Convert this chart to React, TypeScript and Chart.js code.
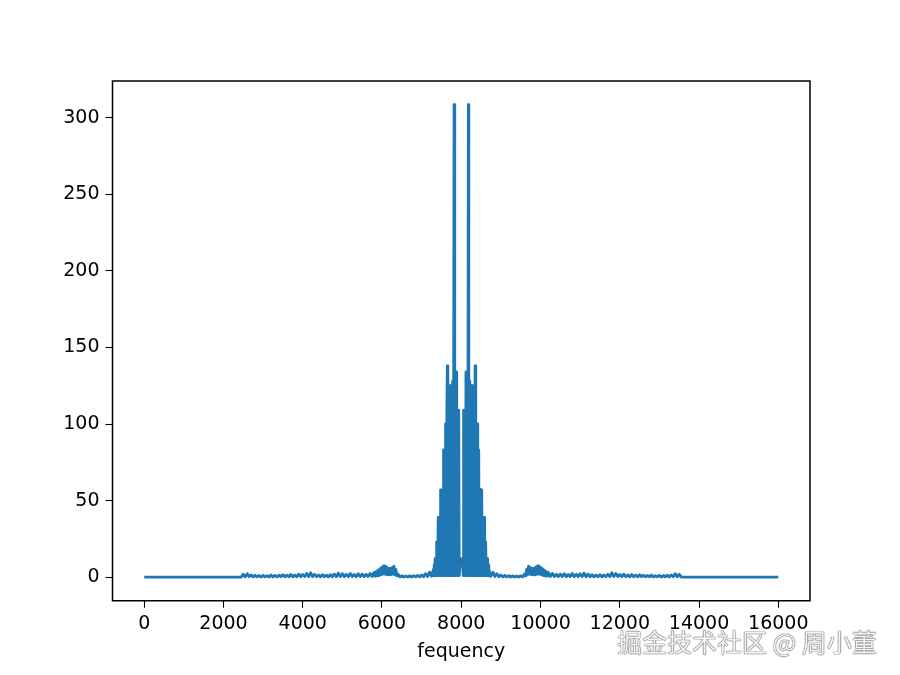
import React, { useEffect, useRef } from "react";
import { Chart, registerables } from "chart.js";

Chart.register(...registerables);

// ---- Data (frequency in Hz, FFT magnitude) ----
const edgeFreqsStart: number[] = [0, 2450];
const edgeMagsStart: number[] = [0, 0.1];

const leftTailFreqs: number[] = [
  2500, 2550, 2600, 2650, 2700, 2750, 2800, 2850, 2900, 2950,
  3000, 3050, 3100, 3150, 3200, 3250, 3300, 3350, 3400, 3450,
  3500, 3550, 3600, 3650, 3700, 3750, 3800, 3850, 3900, 3950,
  4000, 4050, 4100, 4150, 4200, 4250, 4300, 4350, 4400, 4450,
  4500, 4550, 4600, 4650, 4700, 4750, 4800, 4850, 4900, 4950,
  5000, 5050, 5100, 5150, 5200, 5250, 5300, 5350, 5400, 5450,
  5500, 5550, 5600, 5650, 5700, 5750, 5800,
];
const leftTailMags: number[] = [
  1.8, 0.2, 2.2, 0.3, 1.4, 0.2, 1.2, 0.2, 1.0, 0.1,
  1.1, 0.2, 0.9, 0.1, 1.3, 0.2, 1.0, 0.2, 1.2, 0.3,
  1.5, 0.2, 1.3, 0.3, 1.7, 0.2, 1.4, 0.3, 1.9, 0.3,
  1.7, 0.4, 2.4, 0.4, 2.8, 0.3, 1.8, 0.3, 1.4, 0.2,
  1.6, 0.3, 1.3, 0.2, 1.6, 0.3, 2.0, 0.3, 2.6, 0.4,
  2.2, 0.3, 1.8, 0.3, 2.4, 0.4, 1.7, 0.3, 2.2, 0.4,
  2.0, 0.3, 1.8, 0.4, 2.4, 0.5, 3.0,
];

const leftBumpFreqs: number[] = [
  5825, 5850, 5875, 5900, 5925, 5950, 5975, 6000, 6025, 6050,
  6075, 6100, 6125, 6150, 6175, 6200, 6225, 6250, 6275, 6300,
  6325, 6350, 6375, 6400,
];
const leftBumpMags: number[] = [
  0.6, 3.5, 0.8, 4.5, 1.0, 5.5, 1.5, 6.5, 2.0, 7.4,
  2.0, 7.0, 1.5, 6.0, 1.5, 5.6, 1.5, 6.2, 2.0, 7.2,
  1.5, 5.0, 0.8, 2.0,
];

const leftGapFreqs: number[] = [
  6450, 6500, 6550, 6600, 6650, 6700, 6750, 6800, 6850, 6900,
  6950, 7000, 7050, 7100, 7150, 7200, 7250, 7300,
];
const leftGapMags: number[] = [
  0.2, 0.8, 0.1, 0.7, 0.1, 0.8, 0.1, 0.9, 0.2, 1.1,
  0.2, 1.4, 0.3, 2.2, 0.4, 3.2, 0.6, 5.0,
];

const leftMainFreqs: number[] = [
  7310, 7320, 7330, 7340, 7350, 7360, 7370, 7380, 7390, 7400,
  7410, 7420, 7430, 7440, 7450, 7460, 7470, 7480, 7490, 7500,
  7510, 7520, 7530, 7540, 7550, 7560, 7570, 7580, 7590, 7600,
  7610, 7620, 7630, 7640, 7650, 7660, 7670, 7680, 7690, 7700,
  7710, 7720, 7730, 7740, 7750, 7760, 7770, 7780, 7790, 7800,
  7810, 7820, 7830, 7840, 7850, 7860, 7870, 7880, 7890, 7900,
  7910, 7920, 7930, 7940,
];
const leftMainMags: number[] = [
  0.8, 8, 1, 12, 1, 12, 1, 23, 1, 23,
  1, 39, 1, 39, 1, 39, 1, 57, 1, 57,
  1, 57, 1, 57, 1, 83, 1, 83, 1, 100,
  1, 100, 1, 100, 138, 1, 110, 1, 110, 1,
  125, 1, 125, 1, 125, 1, 125, 1, 128, 1,
  128, 308.6, 1, 130, 1, 134, 1, 134, 1, 109,
  1, 109, 1, 109,
];

const centerFreqs: number[] = [7948, 7975, 8000, 8025, 8052];
const centerMags: number[] = [1, 12, 11, 12, 1];

const rightMainFreqs: number[] = [
  8060, 8070, 8080, 8090, 8100, 8110, 8120, 8130, 8140, 8150,
  8160, 8170, 8180, 8190, 8200, 8210, 8220, 8230, 8240, 8250,
  8260, 8270, 8280, 8290, 8300, 8310, 8320, 8330, 8340, 8350,
  8360, 8370, 8380, 8390, 8400, 8410, 8420, 8430, 8440, 8450,
  8460, 8470, 8480, 8490, 8500, 8510, 8520, 8530, 8540, 8550,
  8560, 8570, 8580, 8590, 8600, 8610, 8620, 8630, 8640, 8650,
  8660, 8670, 8680, 8690, 8700,
];
const rightMainMags: number[] = [
  109, 1, 109, 1, 109, 1, 134, 1, 134, 1,
  130, 1, 308.6, 128, 1, 128, 1, 125, 1, 125,
  1, 125, 1, 125, 1, 110, 1, 110, 1, 138,
  100, 1, 100, 1, 100, 1, 83, 1, 83, 1,
  57, 1, 57, 1, 57, 1, 57, 1, 39, 1,
  39, 1, 39, 1, 23, 1, 23, 1, 12, 1,
  12, 1, 8, 0.8, 5.0,
];

const rightGapFreqs: number[] = [
  8750, 8800, 8850, 8900, 8950, 9000, 9050, 9100, 9150, 9200,
  9250, 9300, 9350, 9400, 9450, 9500, 9550,
];
const rightGapMags: number[] = [
  0.6, 3.2, 0.4, 2.2, 0.3, 1.4, 0.2, 1.1, 0.2, 0.9,
  0.1, 0.8, 0.1, 0.7, 0.1, 0.8, 0.2,
];

const rightBumpFreqs: number[] = [
  9600, 9625, 9650, 9675, 9700, 9725, 9750, 9775, 9800, 9825,
  9850, 9875, 9900, 9925, 9950, 9975, 10000, 10025, 10050, 10075,
  10100, 10125, 10150, 10175,
];
const rightBumpMags: number[] = [
  2.0, 0.8, 5.0, 1.5, 7.2, 2.0, 6.2, 1.5, 5.6, 1.5,
  6.0, 1.5, 7.0, 2.0, 7.4, 2.0, 6.5, 1.5, 5.5, 1.0,
  4.5, 0.8, 3.5, 0.6,
];

const rightTailFreqs: number[] = [
  10200, 10250, 10300, 10350, 10400, 10450, 10500, 10550, 10600, 10650,
  10700, 10750, 10800, 10850, 10900, 10950, 11000, 11050, 11100, 11150,
  11200, 11250, 11300, 11350, 11400, 11450, 11500, 11550, 11600, 11650,
  11700, 11750, 11800, 11850, 11900, 11950, 12000, 12050, 12100, 12150,
  12200, 12250, 12300, 12350, 12400, 12450, 12500, 12550, 12600, 12650,
  12700, 12750, 12800, 12850, 12900, 12950, 13000, 13050, 13100, 13150,
  13200, 13250, 13300, 13350, 13400, 13450, 13500, 13550,
];
const rightTailMags: number[] = [
  3.0, 0.5, 2.4, 0.4, 1.8, 0.3, 2.0, 0.4, 2.2, 0.3,
  1.7, 0.4, 2.4, 0.3, 1.8, 0.3, 2.2, 0.4, 2.6, 0.3,
  2.0, 0.3, 1.6, 0.2, 1.3, 0.3, 1.6, 0.2, 1.4, 0.3,
  1.8, 0.3, 2.8, 0.4, 2.4, 0.4, 1.7, 0.3, 1.9, 0.3,
  1.4, 0.2, 1.7, 0.3, 1.3, 0.2, 1.5, 0.3, 1.2, 0.2,
  1.0, 0.2, 1.3, 0.1, 0.9, 0.2, 1.1, 0.1, 1.0, 0.2,
  1.2, 0.2, 1.4, 0.3, 2.2, 0.2, 1.8, 0.1,
];

const edgeFreqsEnd: number[] = [16000];
const edgeMagsEnd: number[] = [0];

const xTicks: number[] = [0, 2000, 4000, 6000, 8000, 10000, 12000, 14000, 16000];
const yTicks: number[] = [0, 50, 100, 150, 200, 250, 300];
const xLabel = "fequency";
const watermark = "掘金技术社区 @ 周小董";

const FONT = "'DejaVu Sans', sans-serif";

const sections: [number[], number[]][] = [
  [edgeFreqsStart, edgeMagsStart],
  [leftTailFreqs, leftTailMags],
  [leftBumpFreqs, leftBumpMags],
  [leftGapFreqs, leftGapMags],
  [leftMainFreqs, leftMainMags],
  [centerFreqs, centerMags],
  [rightMainFreqs, rightMainMags],
  [rightGapFreqs, rightGapMags],
  [rightBumpFreqs, rightBumpMags],
  [rightTailFreqs, rightTailMags],
  [edgeFreqsEnd, edgeMagsEnd],
];

const framePlugin = {
  id: "frame",
  afterDraw(chart: any) {
    const { ctx, chartArea } = chart;
    ctx.save();
    ctx.strokeStyle = "#000";
    ctx.lineWidth = 1.5;
    ctx.strokeRect(
      chartArea.left,
      chartArea.top,
      chartArea.right - chartArea.left,
      chartArea.bottom - chartArea.top
    );
    ctx.restore();
  },
};

export default function App() {
  const canvasRef = useRef<HTMLCanvasElement | null>(null);

  useEffect(() => {
    const canvas = canvasRef.current;
    if (!canvas) return;
    const points: { x: number; y: number }[] = [];
    sections.forEach(([fs, ms]) => {
      const n = Math.min(fs.length, ms.length);
      for (let i = 0; i < n; i++) points.push({ x: fs[i], y: ms[i] });
    });
    const chart = new Chart(canvas, {
      type: "line",
      data: {
        datasets: [
          {
            data: points,
            borderColor: "#1f77b4",
            borderWidth: 2.9,
            pointRadius: 0,
            borderJoinStyle: "round",
            borderCapStyle: "butt",
            fill: false,
            tension: 0,
          },
        ],
      },
      options: {
        animation: false,
        responsive: false,
        devicePixelRatio: 1,
        layout: { padding: { left: 0, top: 81, right: 90, bottom: 0 } },
        plugins: {
          legend: { display: false },
          tooltip: { enabled: false },
        },
        scales: {
          x: {
            type: "linear",
            min: -800,
            max: 16800,
            afterBuildTicks: (scale: any) => {
              scale.ticks = xTicks.map((v) => ({ value: v }));
            },
            afterFit: (scale: any) => {
              scale.height = 74.25;
            },
            grid: {
              drawOnChartArea: false,
              drawTicks: true,
              tickLength: 7,
              tickColor: "#000",
              tickWidth: 1.1,
            },
            border: { display: false },
            ticks: {
              color: "#000",
              font: { family: FONT, size: 19 },
              padding: 5,
              maxRotation: 0,
              autoSkip: false,
              callback: (v: any) => String(v),
            },
            title: {
              display: true,
              text: xLabel,
              color: "#000",
              font: { family: FONT, size: 19 },
              padding: { top: 0, bottom: 12 },
            },
          },
          y: {
            type: "linear",
            min: -15.43,
            max: 324.03,
            afterBuildTicks: (scale: any) => {
              scale.ticks = yTicks.map((v) => ({ value: v }));
            },
            afterFit: (scale: any) => {
              scale.width = 112.5;
            },
            grid: {
              drawOnChartArea: false,
              drawTicks: true,
              tickLength: 7,
              tickColor: "#000",
              tickWidth: 1.1,
            },
            border: { display: false },
            ticks: {
              color: "#000",
              font: { family: FONT, size: 19 },
              padding: 6,
              autoSkip: false,
              callback: (v: any) => String(v),
            },
          },
        },
      },
      plugins: [framePlugin],
    } as any);
    return () => chart.destroy();
  }, []);

  return (
    <div
      style={{
        position: "fixed",
        left: 0,
        top: 0,
        width: 900,
        height: 675,
        background: "#fff",
      }}
    >
      <canvas ref={canvasRef} width={900} height={675} style={{ display: "block" }} />
      <div
        style={{
          position: "absolute",
          left: 617,
          top: 627,
          fontFamily: "'Noto Sans CJK SC', sans-serif",
          fontSize: 25,
          lineHeight: "28px",
          whiteSpace: "nowrap",
          color: "#f4f4f4",
          textShadow: "0 0 1px #555, 0 0 1px #555, 0 0 1px #555",
        }}
      >
        {watermark}
      </div>
    </div>
  );
}
